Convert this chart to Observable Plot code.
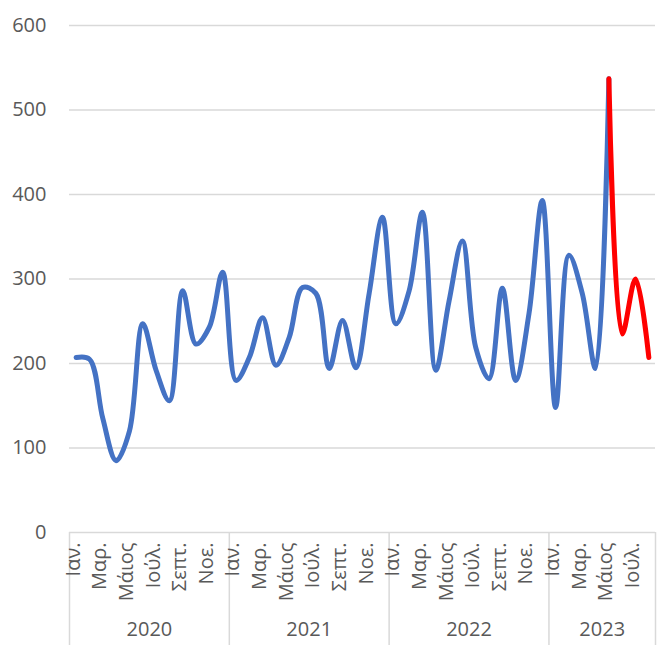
<!DOCTYPE html>
<html>
<head>
<meta charset="utf-8">
<script src="https://cdn.jsdelivr.net/npm/d3@7"></script>
<script src="https://cdn.jsdelivr.net/npm/@observablehq/plot@0.6"></script>
<style>
  html, body { margin: 0; padding: 0; background: #fff; }
</style>
</head>
<body>
<div id="chart"></div>
<script>
const years = [2020, 2021, 2022, 2023];
const monthLabels = ["Ιαν.", "", "Μαρ.", "", "Μάιος", "", "Ιούλ.", "", "Σεπτ.", "", "Νοε.", ""];
const values = [
  207, 205, 135, 85, 120, 247, 192, 156, 286, 223, 243, 308,
  180, 207, 254, 198, 231, 290, 283, 194, 251, 195, 283, 373,
  247, 286, 379, 192, 274, 345, 219, 182, 289, 180, 259, 393,
  148, 328, 283, 194, 537, 235, 300, 207
];
const splitIndex = 40; // May 2023: red segment begins
const yTicks = [0, 100, 200, 300, 400, 500, 600];

const rows = values.map((v, i) => ({
  i,
  value: v,
  year: years[Math.floor(i / 12)],
  label: monthLabels[i % 12]
}));
const blue = rows.filter(d => d.i <= splitIndex);
const red = rows.filter(d => d.i >= splitIndex);
const yearRows = years.map(y => {
  const idx = rows.filter(d => d.year === y).map(d => d.i);
  return { year: y, mid: (idx[0] + idx[idx.length - 1]) / 2, last: idx[idx.length - 1] + 0.5 };
});
const boundaries = [-0.5, ...yearRows.map(d => d.last)];

const chart = Plot.plot({
  width: 657,
  height: 645,
  marginLeft: 69,
  marginRight: 2,
  marginTop: 25,
  marginBottom: 113,
  style: { fontFamily: "'Open Sans', sans-serif", fontSize: "20px", color: "#595959", background: "#fff" },
  x: { domain: [-0.5, values.length - 0.5], axis: null },
  y: { domain: [0, 600], ticks: yTicks },
  marks: [
    Plot.ruleY(yTicks, { stroke: "#d9d9d9", strokeWidth: 1.5 }),
    Plot.ruleX(boundaries, { stroke: "#d9d9d9", strokeWidth: 1.5, insetTop: 507, insetBottom: -113 }),
    Plot.axisY({ ticks: yTicks, tickSize: 0, tickPadding: 23, label: null, fontSize: 20, fill: "#595959" }),
    Plot.line(blue, { x: "i", y: "value", stroke: "#4472C4", strokeWidth: 5, curve: "catmull-rom", strokeLinecap: "round", strokeLinejoin: "round" }),
    Plot.line(red, { x: "i", y: "value", stroke: "#FF0000", strokeWidth: 5, curve: "catmull-rom", strokeLinecap: "round", strokeLinejoin: "round" }),
    Plot.text(rows.filter(d => d.label), { x: "i", text: "label", frameAnchor: "bottom", dx: 3.5, dy: 10, rotate: -90, textAnchor: "end", fontSize: 20, fill: "#595959" }),
    Plot.text(yearRows, { x: "mid", text: d => String(d.year), frameAnchor: "bottom", dy: 103, fontSize: 20, fill: "#595959" })
  ]
});
document.getElementById("chart").appendChild(chart);
</script>
</body>
</html>
